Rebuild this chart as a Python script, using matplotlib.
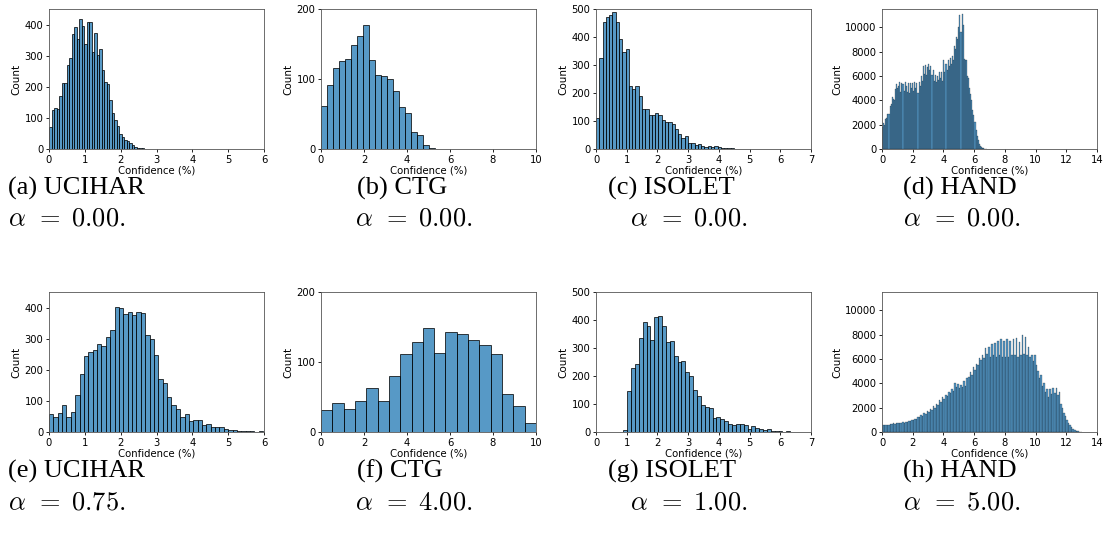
import numpy as np
import matplotlib
matplotlib.use('Agg')
import matplotlib.pyplot as plt

# bin counts, bins start at 0
ucihar_a0 = [70, 125, 132, 128, 170, 213, 214, 272, 293, 370, 393, 355, 420, 397, 340,
             410, 410, 313, 375, 305, 322, 255, 216, 210, 158, 117, 94, 73, 50, 40,
             30, 25, 20, 12, 7, 4, 3, 2, 1, 1, 0, 1]
ctg_a0 = [62, 92, 115, 125, 128, 148, 162, 177, 127, 106, 104, 100, 83, 60, 52, 24, 20, 6, 2]
isolet_a0 = [110, 325, 455, 470, 480, 488, 452, 393, 345, 358, 225, 215, 225, 190, 143,
             143, 120, 123, 128, 120, 105, 97, 97, 88, 72, 55, 40, 47, 22, 22,
             15, 18, 12, 8, 12, 8, 10, 6, 4, 4, 3, 2, 1, 1, 1, 0, 0, 1, 0]
hand_a0 = [1800, 2100, 2000, 2500, 2550, 2900, 2850, 3500, 3700, 4300,
           4100, 4000, 4900, 5300, 5000, 5200, 5500, 4700, 5400, 5300,
           4800, 5500, 5200, 4700, 5400, 4600, 5400, 5000, 5400, 4800,
           5500, 5000, 5400, 4600, 5500, 5200, 6000, 5600, 6800, 6200,
           6900, 6100, 6700, 7000, 6500, 6800, 6100, 6500, 5600, 6100,
           5500, 6000, 5700, 6300, 5800, 6300, 5600, 7300, 6300, 7000,
           6500, 7300, 6800, 7500, 7000, 7600, 7300, 8500, 8200, 9200,
           9000, 10000, 11000, 9600, 11100, 10200, 7400, 7300, 7300, 6000,
           5800, 5000, 4500, 4000, 3200, 2800, 2200, 1600, 1100, 700,
           450, 280, 170, 100, 60, 30, 15, 6]

ucihar_a1 = [58, 48, 62, 87, 49, 65, 120, 188, 245, 258, 265, 285, 278, 307, 330,
             405, 400, 382, 387, 378, 388, 383, 312, 300, 250, 170, 157, 112, 87, 75,
             50, 58, 37, 40, 40, 23, 27, 17, 15, 17, 10, 6, 7, 4, 3, 2, 2, 1, 3]
ctg_a1 = [32, 42, 33, 45, 63, 44, 80, 111, 128, 148, 113, 143, 140, 132, 125, 112, 55, 37, 13]
isolet_a1 = [0, 0, 0, 0, 0, 1, 0, 8,
             147, 228, 243, 335, 393, 378, 330, 410, 413, 378, 322, 325, 272, 250, 252,
             213, 200, 150, 128, 97, 90, 87, 50, 55, 45, 38, 30, 25, 28, 28, 25,
             12, 22, 15, 12, 8, 10, 4, 4, 2, 1, 3, 1, 1, 0, 1, 0]
hand_a1 = [600, 580, 600, 610, 590, 650, 620, 700, 680, 730,
           700, 780, 720, 800, 760, 850, 800, 900, 870, 980,
           950, 1100, 1050, 1250, 1200, 1400, 1350, 1600, 1500, 1750,
           1650, 1850, 1800, 2100, 2000, 2300, 2200, 2600, 2500, 2900,
           2750, 3000, 2950, 3300, 3200, 3500, 3400, 4000, 3700, 3950,
           3600, 3900, 3700, 4200, 3800, 4400, 4500, 4900, 4700, 5300,
           5100, 5600, 5500, 6100, 5900, 6300, 6100, 6900, 6400, 7000,
           6200, 7200, 6300, 7300, 6200, 7500, 6300, 7600, 6200, 7500,
           6200, 7600, 6200, 7500, 6300, 7600, 6300, 7700, 6200, 7400,
           6300, 8000, 6400, 7800, 6300, 7000, 6200, 6300, 5800, 6300,
           5500, 5000, 4400, 4700, 3800, 4000, 3300, 3500, 2900, 3500,
           3100, 3600, 3200, 3600, 3000, 3300, 2300, 2000, 1600, 1300,
           1000, 750, 550, 380, 250, 150, 90, 50, 25, 10]

datasets = ['UCIHAR', 'CTG', 'ISOLET', 'HAND']
alphas_top = ['0.00', '0.00', '0.00', '0.00']
alphas_bot = ['0.75', '4.00', '1.00', '5.00']
bin_w_top = [0.07, 0.28, 0.107, 0.07]
bin_w_bot = [0.122, 10 / 19, 0.1265, 0.1]
xmax = [6, 10, 7, 14]
ymax = [452, 200, 500, 11500]
ystep = [100, 100, 100, 2000]

plt.rcParams['mathtext.fontset'] = 'cm'

fig = plt.figure(figsize=(11.07, 5.48), dpi=100)
W, H = 1107.0, 548.0

ax_left = [49, 321, 596, 882]
ax_w = 215
top_row = (9, 149)
bot_row = (292, 432)

cap_x1 = [8, 357, 608, 903]
cap_x2 = [8, 355, 630, 903]

letters = 'abcdefgh'


def draw_hist(ax, counts, w, xm, ym, ys):
    counts = np.asarray(counts)
    edges = np.arange(len(counts)) * w
    dense = len(counts) > 80
    ax.bar(edges, counts, width=w, align='edge', color='#1f77b4', alpha=0.75,
           edgecolor='black', linewidth=0.2 if dense else 0.7)
    ax.set_xlim(0, xm)
    ax.set_ylim(0, ym)
    ax.set_yticks(np.arange(0, ym + 1, ys))
    ax.set_xlabel('Confidence (%)', fontsize=7.3, labelpad=1)
    ax.set_ylabel('Count', fontsize=7.5, labelpad=2)
    ax.tick_params(labelsize=7.2, length=2.5, width=0.6, pad=1.5)
    for s in ax.spines.values():
        s.set_linewidth(0.6)
        s.set_color('#555555')


if __name__ == '__main__':
    rows = [(top_row, [ucihar_a0, ctg_a0, isolet_a0, hand_a0], bin_w_top, alphas_top, 0),
            (bot_row, [ucihar_a1, ctg_a1, isolet_a1, hand_a1], bin_w_bot, alphas_bot, 4)]
    for (y0, y1), data, widths, alph, off in rows:
        for i in range(4):
            ax = fig.add_axes([ax_left[i] / W, 1 - y1 / H, ax_w / W, (y1 - y0) / H])
            draw_hist(ax, data[i], widths[i], xmax[i], ymax[i], ystep[i])
            cy = y1 + 39
            fig.text(cap_x1[i] / W, 1 - cy / H, '(%s) %s' % (letters[off + i], datasets[i]),
                     fontsize=19, family='Liberation Serif', ha='left', va='center')
            fig.text(cap_x2[i] / W, 1 - (cy + 31) / H, r'$\alpha\;\,=\;%s.$' % alph[i],
                     fontsize=19, ha='left', va='center')

    fig.savefig('out.png', dpi=100)
